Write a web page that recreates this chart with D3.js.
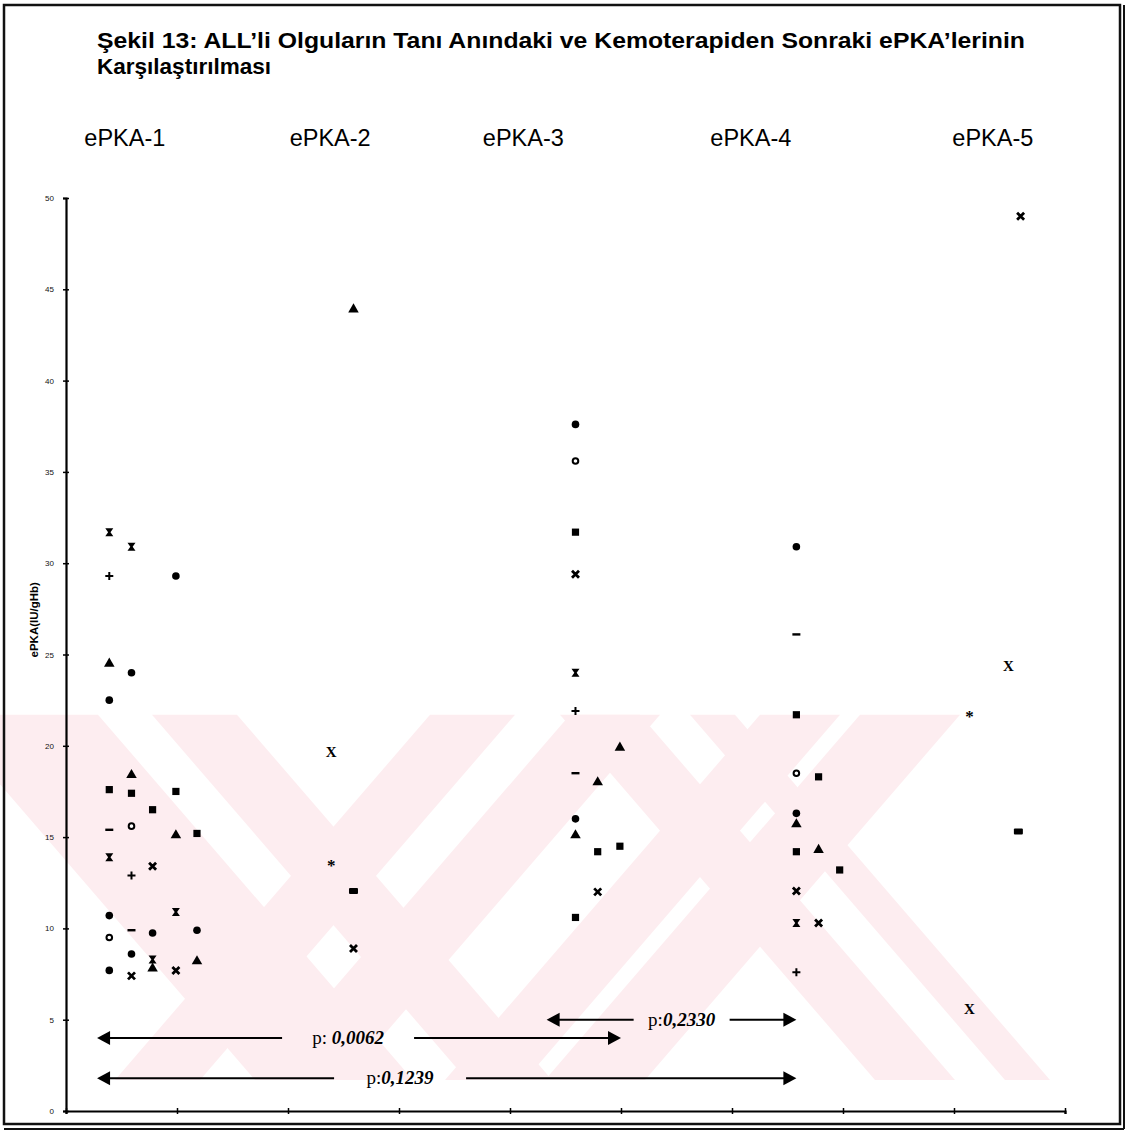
<!DOCTYPE html>
<html>
<head>
<meta charset="utf-8">
<script src="https://cdn.jsdelivr.net/npm/d3@7"></script>
<style>
  body { margin: 0; background: #fff; }
  svg { display: block; }
</style>
</head>
<body>
<div class="chart"></div>
<script>
// column headings and axis ticks
var groups = ["ePKA-1", "ePKA-2", "ePKA-3", "ePKA-4", "ePKA-5"],
	groupLabelX = [0.53, 2.38, 4.12, 6.17, 8.35],
	yTicks = [0, 5, 10, 15, 20, 25, 30, 35, 40, 45, 50],
	xTicks = [0, 1, 2, 3, 4, 5, 6, 7, 8, 9];

// points: [x position, ePKA (IU/gHb), marker]
var ePKA1 = [
	[0.39, 31.7, "hourglass"], [0.39, 29.3, "plus"], [0.39, 24.5, "triangle"],
	[0.39, 22.5, "circle"], [0.39, 17.6, "square"], [0.39, 15.4, "minus"],
	[0.39, 13.9, "hourglass"], [0.39, 10.7, "circle"], [0.39, 9.5, "ocircle"],
	[0.39, 7.7, "circle"],
	[0.59, 30.9, "hourglass"], [0.59, 24.0, "circle"], [0.59, 18.4, "triangle"],
	[0.59, 17.4, "square"], [0.59, 15.6, "ocircle"], [0.59, 12.9, "plus"],
	[0.59, 9.9, "minus"], [0.59, 8.6, "circle"], [0.59, 7.4, "cross"],
	[0.78, 16.5, "square"], [0.78, 13.4, "cross"], [0.78, 9.75, "circle"],
	[0.78, 8.3, "hourglass"], [0.78, 7.8, "triangle"],
	[0.99, 29.3, "circle"], [0.99, 17.5, "square"], [0.99, 15.1, "triangle"],
	[0.99, 10.9, "hourglass"], [0.99, 7.7, "cross"],
	[1.18, 15.2, "square"], [1.18, 9.9, "circle"], [1.18, 8.2, "triangle"]
];
var ePKA2 = [
	[2.39, 19.7, "X"], [2.39, 13.5, "star"],
	[2.59, 43.9, "triangle"], [2.59, 12.05, "bar"], [2.59, 8.9, "cross"]
];
var ePKA3 = [
	[4.59, 37.6, "circle"], [4.59, 35.6, "ocircle"], [4.59, 31.7, "square"],
	[4.59, 29.4, "cross"], [4.59, 24.0, "hourglass"], [4.59, 21.9, "plus"],
	[4.59, 18.5, "minus"], [4.59, 16.0, "circle"], [4.59, 15.1, "triangle"],
	[4.59, 10.6, "square"],
	[4.79, 18.0, "triangle"], [4.79, 14.2, "square"], [4.79, 12.0, "cross"],
	[4.99, 19.9, "triangle"], [4.99, 14.5, "square"]
];
var ePKA4 = [
	[6.58, 30.9, "circle"], [6.58, 26.1, "minus"], [6.58, 21.7, "square"],
	[6.58, 18.5, "ocircle"], [6.58, 16.3, "circle"], [6.58, 15.7, "triangle"],
	[6.58, 14.2, "square"], [6.58, 12.05, "cross"], [6.58, 10.3, "hourglass"],
	[6.58, 7.6, "plus"],
	[6.78, 18.3, "square"], [6.78, 14.3, "triangle"], [6.78, 10.3, "cross"],
	[6.97, 13.2, "square"]
];
var ePKA5 = [
	[8.14, 21.7, "star"], [8.14, 5.6, "X"], [8.49, 24.4, "X"],
	[8.58, 15.3, "bar"], [8.6, 49.0, "cross"]
];

// comparisons drawn at the bottom: [from, to, height, label]
var pTests = [
	[0.28, 5.0, 4.0, "0,0062"],
	[0.28, 6.58, 1.8, "0,1239"],
	[4.33, 6.58, 5.0, "0,2330"]
];

var width = 1128,
	height = 1135;

var svg = d3.select(".chart").append("svg")
	.attr("width", width)
	.attr("height", height)
	.style("font-family", "'Liberation Sans', Arial, sans-serif");

var x = d3.scaleLinear().domain([0, 9]).range([66, 1065]),
	y = d3.scaleLinear().domain([0, 50]).range([1111, 198]);

// faint pink watermark from the scan, behind everything
var wm = svg.append("g").attr("fill", "#fdedf0");
var wTop = y(21.7), wBot = y(1.7);
var bands = [
	[-60, 98, 255, 413], [152, 237, 467, 552],
	[430, 515, 115, 200], [570, 660, 255, 345],
	[560, 640, 875, 955], [690, 735, 1005, 1050],
	[760, 840, 445, 525], [860, 960, 545, 645]
];
bands.forEach(function(b) {
	wm.append("path")
		.attr("d", "M" + b[0] + "," + wTop + "L" + b[1] + "," + wTop +
			"L" + b[3] + "," + wBot + "L" + b[2] + "," + wBot + "Z");
});

// frame
svg.append("rect")
	.attr("x", 4).attr("y", 5)
	.attr("width", 1116).attr("height", 1119)
	.attr("fill", "none").attr("stroke", "#111").attr("stroke-width", 2.5);
svg.append("line").attr("x1", 4).attr("x2", 1124).attr("y1", 1129).attr("y2", 1129)
	.attr("stroke", "#111").attr("stroke-width", 2);
svg.append("line").attr("x1", 1124).attr("x2", 1124).attr("y1", 5).attr("y2", 1129)
	.attr("stroke", "#111").attr("stroke-width", 2);

// title
svg.append("text")
	.attr("x", 97).attr("y", 48)
	.attr("font-weight", "bold").attr("font-size", 21.5)
	.attr("textLength", 928).attr("lengthAdjust", "spacingAndGlyphs")
	.text("Şekil 13: ALL’li Olguların Tanı Anındaki ve Kemoterapiden Sonraki ePKA’lerinin");
svg.append("text")
	.attr("x", 97).attr("y", 74)
	.attr("font-weight", "bold").attr("font-size", 21.5)
	.attr("textLength", 174).attr("lengthAdjust", "spacingAndGlyphs")
	.text("Karşılaştırılması");

// group headings
svg.selectAll(".glabel")
	.data(groups).enter()
	.append("text")
	.attr("class", "glabel")
	.attr("x", function(d, i) { return x(groupLabelX[i]); })
	.attr("y", 146)
	.attr("text-anchor", "middle")
	.attr("font-size", 24)
	.attr("textLength", 81).attr("lengthAdjust", "spacingAndGlyphs")
	.text(function(d) { return d; });

// axes
var yAxis = svg.append("g")
	.attr("transform", "translate(" + x(0) + ",0)")
	.call(d3.axisLeft(y).tickValues(yTicks).tickSize(3).tickPadding(9));
yAxis.select(".domain").attr("stroke-width", 2.2);
yAxis.selectAll(".tick line").attr("x2", 3).attr("x1", -3).attr("stroke-width", 1.5);
yAxis.selectAll(".tick text").attr("font-size", 8).attr("fill", "#111");

var xAxis = svg.append("g")
	.attr("transform", "translate(0," + y(0) + ")")
	.call(d3.axisBottom(x).tickValues(xTicks).tickSize(3).tickFormat(""));
xAxis.select(".domain").attr("stroke-width", 2.2);
xAxis.selectAll(".tick line").attr("y1", -3).attr("y2", 3).attr("stroke-width", 1.5);

svg.append("text")
	.attr("transform", "translate(38," + y(26.9) + ") rotate(-90)")
	.attr("text-anchor", "middle")
	.attr("font-weight", "bold").attr("font-size", 11.5)
	.text("ePKA(IU/gHb)");

// markers
function drawMarker(sel) {
	sel.each(function(d) {
		var g = d3.select(this);
		switch (d[2]) {
			case "circle":
				g.append("circle").attr("r", 3.8).attr("fill", "#000");
				break;
			case "ocircle":
				g.append("circle").attr("r", 2.8).attr("fill", "#fff")
					.attr("stroke", "#000").attr("stroke-width", 2);
				break;
			case "square":
				g.append("rect").attr("x", -3.6).attr("y", -3.6)
					.attr("width", 7.2).attr("height", 7.2).attr("fill", "#000");
				break;
			case "bar":
				g.append("rect").attr("x", -4.5).attr("y", -3)
					.attr("width", 9).attr("height", 6).attr("rx", 1).attr("fill", "#000");
				break;
			case "triangle":
				g.append("path").attr("d", d3.symbol(d3.symbolTriangle).size(48)())
					.attr("fill", "#000");
				break;
			case "cross":
				g.append("path").attr("d", "M-3.5,-3.5L3.5,3.5M3.5,-3.5L-3.5,3.5")
					.attr("stroke", "#000").attr("stroke-width", 2.8);
				break;
			case "hourglass":
				g.append("path").attr("d", "M-4,-4H4L1.2,0L4,4H-4L-1.2,0Z")
					.attr("fill", "#000");
				break;
			case "plus":
				g.append("path").attr("d", "M-4,0H4M0,-4V4")
					.attr("stroke", "#000").attr("stroke-width", 2);
				break;
			case "minus":
				g.append("path").attr("d", "M-4,0H4")
					.attr("stroke", "#000").attr("stroke-width", 2.4);
				break;
			case "star":
				g.append("text").attr("y", 7).attr("text-anchor", "middle")
					.attr("font-family", "'Liberation Serif', serif")
					.attr("font-weight", "bold").attr("font-size", 17).text("*");
				break;
			case "X":
				g.append("text").attr("y", 5.5).attr("text-anchor", "middle")
					.attr("font-family", "'Liberation Serif', serif")
					.attr("font-weight", "bold").attr("font-size", 15).text("X");
				break;
		}
	});
}

[ePKA1, ePKA2, ePKA3, ePKA4, ePKA5].forEach(function(set) {
	svg.append("g").selectAll("g")
		.data(set).enter()
		.append("g")
		.attr("transform", function(d) { return "translate(" + x(d[0]) + "," + y(d[1]) + ")"; })
		.call(drawMarker);
});

// p-value arrows; where the label sits and how wide its gap is
var labelAt = {"0,0062": [251, 66], "0,1239": [303, 66], "0,2330": [135, 48]};
var arrows = svg.append("g");
pTests.forEach(function(t) {
	var x1 = x(t[0]), x2 = x(t[1]), yy = y(t[2]),
		mid = x1 + labelAt[t[3]][0],
		gap = labelAt[t[3]][1];
	arrows.append("line").attr("x1", x1 + 10).attr("x2", mid - gap).attr("y1", yy).attr("y2", yy)
		.attr("stroke", "#000").attr("stroke-width", 2);
	arrows.append("line").attr("x1", mid + gap).attr("x2", x2 - 10).attr("y1", yy).attr("y2", yy)
		.attr("stroke", "#000").attr("stroke-width", 2);
	arrows.append("path").attr("d", "M" + x1 + "," + yy + "l13,-7v14z").attr("fill", "#000");
	arrows.append("path").attr("d", "M" + x2 + "," + yy + "l-13,-7v14z").attr("fill", "#000");
	var txt = arrows.append("text").attr("x", mid).attr("y", yy + 6)
		.attr("text-anchor", "middle")
		.attr("font-family", "'Liberation Serif', 'Times New Roman', serif")
		.attr("font-size", 19);
	txt.append("tspan").text(t[3] == "0,0062" ? "p: " : "p:");
	txt.append("tspan").attr("font-style", "italic").attr("font-weight", "bold").text(t[3]);
});
</script>
</body>
</html>
